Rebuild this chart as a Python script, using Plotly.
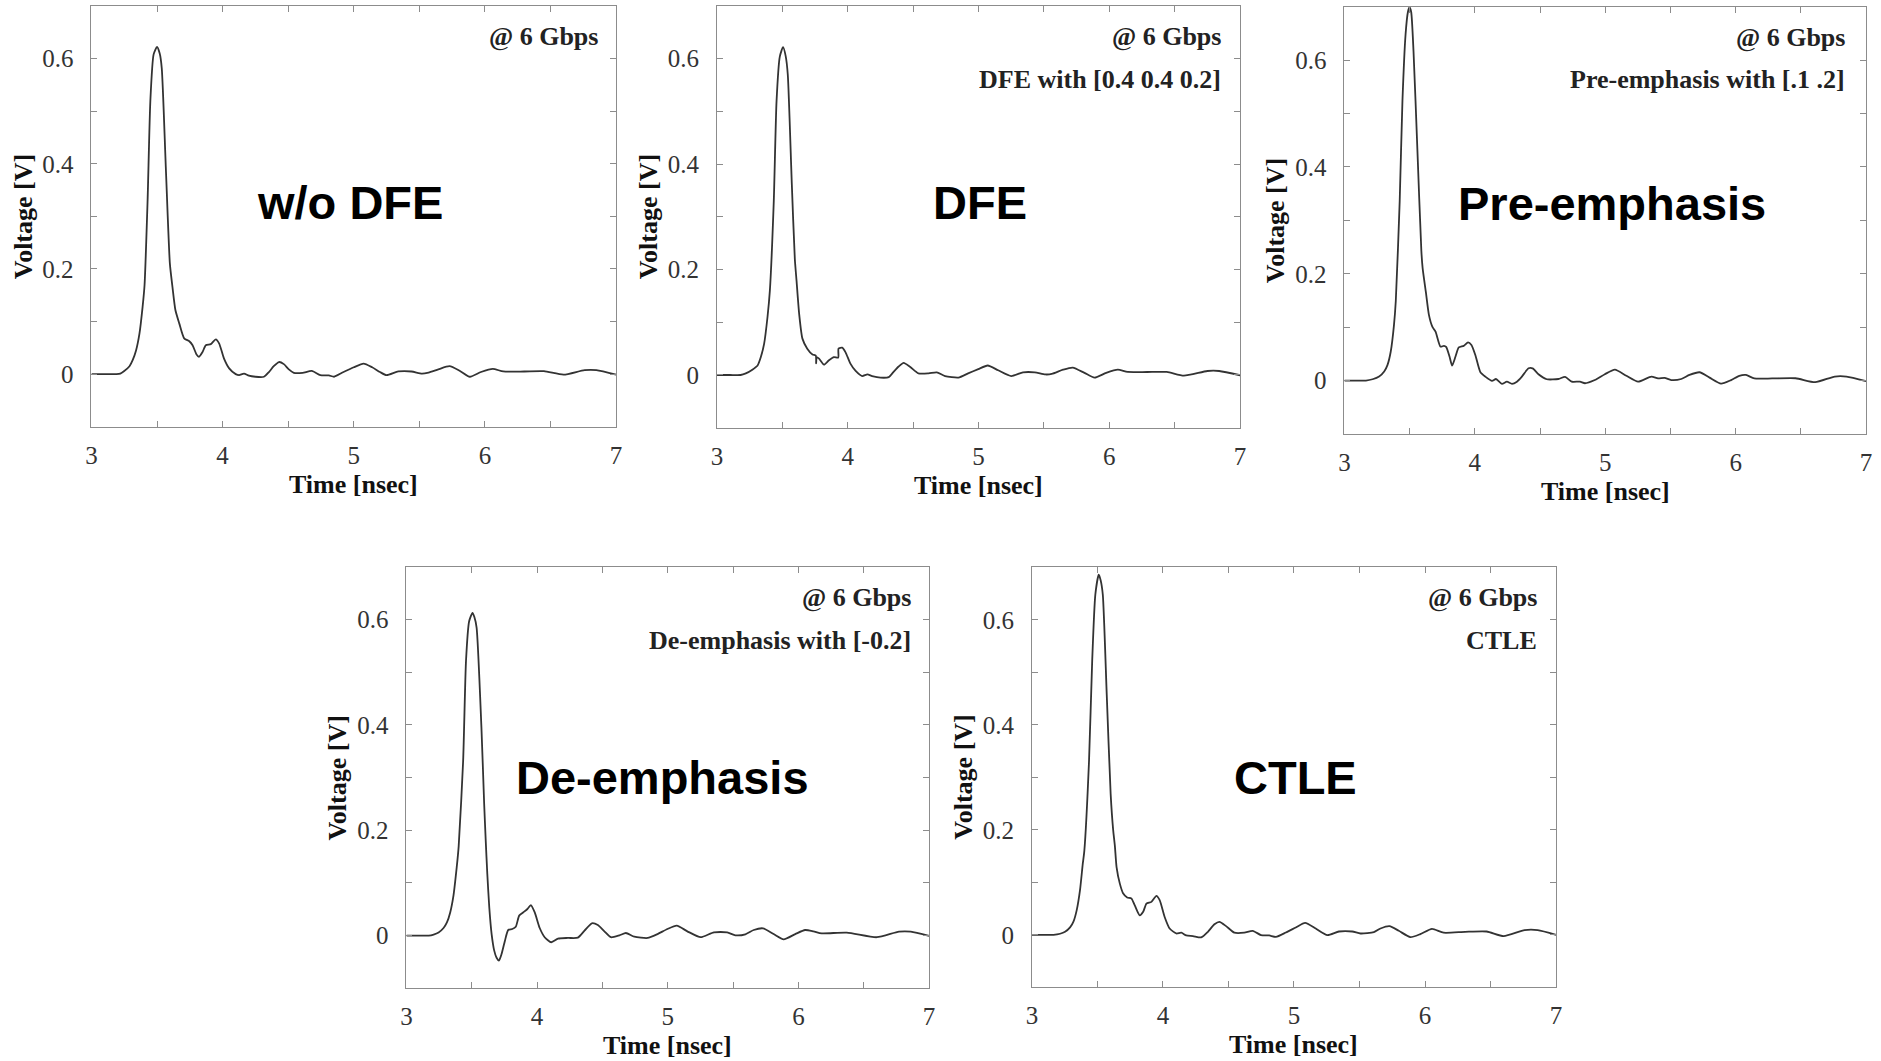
import plotly.graph_objects as go

W, H = 1881, 1061

# ---------------- data ----------------
t_wo_dfe = [3.0, 3.1, 3.19, 3.22, 3.25, 3.29, 3.315, 3.34, 3.366, 3.39, 3.405, 3.428, 3.449, 3.474, 3.5, 3.52,
            3.536, 3.567, 3.598, 3.618, 3.64, 3.67, 3.707, 3.746, 3.771, 3.80, 3.82, 3.847, 3.872, 3.91, 3.948,
            3.974, 4.01, 4.05, 4.10, 4.126, 4.163, 4.20, 4.25, 4.315, 4.353, 4.39, 4.43, 4.467, 4.505, 4.543,
            4.61, 4.68, 4.745, 4.81, 4.85, 4.91, 5.0, 5.075, 5.14, 5.2, 5.25, 5.34, 5.44, 5.52, 5.57, 5.645,
            5.73, 5.81, 5.885, 5.97, 6.06, 6.14, 6.3, 6.45, 6.6, 6.76, 6.85, 7.0]
v_wo_dfe = [0.0, 0.0, 0.0, 0.001, 0.006, 0.015, 0.027, 0.045, 0.077, 0.128, 0.17, 0.33, 0.519, 0.608, 0.622, 0.61,
            0.582, 0.393, 0.21, 0.165, 0.122, 0.096, 0.068, 0.0625, 0.055, 0.038, 0.033, 0.042, 0.055, 0.057, 0.066,
            0.058, 0.030, 0.011, 0.0, -0.002, 0.001, -0.003, -0.005, -0.005, 0.004, 0.015, 0.023, 0.019, 0.009, 0.0025,
            0.0025, 0.006, -0.002, -0.0025, -0.005, 0.0025, 0.013, 0.020, 0.013, 0.004, -0.002, 0.005, 0.005, 0.001, 0.003, 0.009,
            0.015, 0.006, -0.005, 0.004, 0.010, 0.005, 0.005, 0.0055, -0.001, 0.0075, 0.0075, -0.001]

t_dfe = [3.0, 3.1, 3.18, 3.22, 3.27, 3.31, 3.335, 3.36, 3.386, 3.404, 3.434, 3.455, 3.48, 3.505, 3.525, 3.541,
         3.572, 3.595, 3.608, 3.628, 3.653, 3.69, 3.73, 3.755, 3.758, 3.762, 3.78, 3.818, 3.856, 3.894, 3.927,
         3.929, 3.957, 3.983, 4.02, 4.06, 4.11, 4.15, 4.186, 4.25, 4.313, 4.35, 4.389, 4.427, 4.478, 4.54, 4.618,
         4.68, 4.744, 4.846, 4.92, 4.998, 5.07, 5.15, 5.25, 5.34, 5.43, 5.51, 5.56, 5.646, 5.72, 5.81, 5.887,
         5.976, 6.065, 6.14, 6.29, 6.44, 6.57, 6.75, 6.84, 7.0]
v_dfe = [0.0, 0.0, 0.0, 0.003, 0.010, 0.018, 0.034, 0.059, 0.11, 0.16, 0.33, 0.519, 0.604, 0.622, 0.605, 0.570,
         0.362, 0.22, 0.179, 0.116, 0.069, 0.05, 0.039, 0.037, 0.022, 0.034, 0.031, 0.0196, 0.028, 0.034, 0.033,
         0.05, 0.052, 0.043, 0.0215, 0.0076, -0.002, 0.001, -0.002, -0.005, -0.004, 0.006, 0.016, 0.0228, 0.015, 0.003, 0.003,
         0.005, -0.002, -0.005, 0.003, 0.011, 0.018, 0.009, -0.002, 0.005, 0.005, 0.001, 0.002, 0.010, 0.014, 0.004, -0.005,
         0.004, 0.010, 0.0057, 0.0057, 0.0057, -0.0013, 0.0076, 0.0076, -0.0005]

t_pre = [3.0, 3.1, 3.165, 3.216, 3.266, 3.305, 3.33, 3.355, 3.38, 3.394, 3.424, 3.445, 3.469, 3.487, 3.499, 3.512,
         3.53, 3.56, 3.59, 3.6, 3.625, 3.648, 3.674, 3.699, 3.737, 3.763, 3.78, 3.806, 3.826, 3.852, 3.877, 3.915,
         3.948, 3.974, 4.005, 4.043, 4.08, 4.132, 4.162, 4.208, 4.246, 4.285, 4.323, 4.361, 4.412, 4.443, 4.488,
         4.552, 4.641, 4.692, 4.743, 4.806, 4.845, 4.92, 4.997, 5.074, 5.162, 5.252, 5.354, 5.405, 5.455, 5.506,
         5.583, 5.646, 5.723, 5.8, 5.888, 5.965, 6.028, 6.079, 6.143, 6.28, 6.46, 6.61, 6.76, 6.85, 7.0]
v_pre = [0.0, 0.0, 0.0, 0.0025, 0.0075, 0.017, 0.029, 0.054, 0.104, 0.149, 0.336, 0.523, 0.648, 0.69, 0.699, 0.69,
         0.616, 0.43, 0.243, 0.21, 0.165, 0.123, 0.101, 0.0915, 0.0635, 0.065, 0.063, 0.045, 0.028, 0.045, 0.062, 0.065,
         0.0716, 0.0666, 0.047, 0.0156, 0.0075, -0.0006, 0.003, -0.006, -0.002, -0.006, -0.002, 0.0075, 0.023, 0.023, 0.012,
         0.0025, 0.003, 0.007, -0.002, -0.002, -0.005, 0.001, 0.012, 0.0205, 0.009, -0.002, 0.0075, 0.004, 0.005, 0.001,
         0.003, 0.0106, 0.0156, 0.0056, -0.0056, 0.001, 0.009, 0.0106, 0.004, 0.004, 0.0044, -0.003, 0.0075, 0.0075, -0.001]

t_de = [3.0, 3.1, 3.17, 3.208, 3.246, 3.284, 3.31, 3.335, 3.36, 3.385, 3.4, 3.434, 3.456, 3.48, 3.506, 3.52,
        3.537, 3.574, 3.595, 3.607, 3.619, 3.634, 3.652, 3.672, 3.69, 3.708, 3.728, 3.754, 3.779, 3.81, 3.837,
        3.863, 3.893, 3.926, 3.952, 3.982, 4.02, 4.058, 4.109, 4.16, 4.236, 4.312, 4.363, 4.419, 4.465, 4.515,
        4.566, 4.63, 4.68, 4.744, 4.846, 4.922, 4.998, 5.069, 5.15, 5.252, 5.353, 5.455, 5.518, 5.594, 5.658,
        5.729, 5.81, 5.887, 5.976, 6.051, 6.115, 6.178, 6.37, 6.6, 6.77, 6.86, 7.0]
v_de = [0.0, 0.0, 0.0, 0.002, 0.006, 0.0145, 0.025, 0.044, 0.076, 0.13, 0.17, 0.332, 0.522, 0.597, 0.613, 0.605,
        0.585, 0.395, 0.25, 0.18, 0.117, 0.054, 0.003, -0.0285, -0.042, -0.0474, -0.035, -0.0095, 0.0107, 0.0126, 0.017,
        0.038, 0.044, 0.0506, 0.058, 0.044, 0.0145, -0.003, -0.0126, -0.0057, -0.0044, -0.0038, 0.0095, 0.0234, 0.0202, 0.0082,
        -0.003, 0.0006, 0.005, -0.002, -0.0044, 0.003, 0.0126, 0.019, 0.0082, -0.003, 0.0063, 0.0063, 0.0006, 0.0025, 0.0107,
        0.0139, 0.003, -0.007, 0.003, 0.0107, 0.0082, 0.0044, 0.0057, -0.003, 0.0076, 0.0076, -0.0006]

t_ctle = [3.0, 3.1, 3.165, 3.215, 3.253, 3.291, 3.317, 3.342, 3.367, 3.388, 3.40, 3.436, 3.46, 3.484, 3.51, 3.525,
          3.541, 3.571, 3.601, 3.62, 3.633, 3.646, 3.671, 3.697, 3.727, 3.76, 3.785, 3.823, 3.849, 3.874, 3.912,
          3.95, 3.975, 4.013, 4.051, 4.102, 4.14, 4.178, 4.229, 4.292, 4.343, 4.393, 4.431, 4.482, 4.545, 4.621,
          4.685, 4.748, 4.811, 4.862, 4.938, 5.014, 5.085, 5.166, 5.255, 5.343, 5.445, 5.508, 5.61, 5.66, 5.729,
          5.8, 5.888, 5.964, 6.053, 6.142, 6.306, 6.47, 6.6, 6.76, 6.86, 7.0]
v_ctle = [0.0, 0.0, 0.0, 0.002, 0.0057, 0.014, 0.025, 0.047, 0.085, 0.135, 0.16, 0.332, 0.522, 0.648, 0.686, 0.675,
          0.648, 0.458, 0.268, 0.2, 0.17, 0.129, 0.0975, 0.0785, 0.071, 0.069, 0.056, 0.037, 0.0437, 0.0595, 0.0627,
          0.074, 0.066, 0.034, 0.012, 0.0025, 0.004, -0.0013, -0.0025, -0.005, 0.0057, 0.02, 0.0247, 0.0165, 0.004, 0.004,
          0.0076, -0.0006, -0.0013, -0.004, 0.0044, 0.014, 0.0228, 0.012, -0.0006, 0.0063, 0.0063, 0.0025, 0.005, 0.012, 0.0165,
          0.0076, -0.0044, 0.0013, 0.0114, 0.004, 0.0057, 0.0063, -0.0025, 0.0089, 0.0089, 0.0]

big_labels = ["w/o DFE", "DFE", "Pre-emphasis", "De-emphasis", "CTLE"]
rate_label = "@ 6 Gbps"
setting_labels = ["", "DFE with [0.4 0.4 0.2]", "Pre-emphasis with [.1 .2]", "De-emphasis with [-0.2]", "CTLE"]
x_title = "Time [nsec]"
y_title = "Voltage [V]"
x_tick_vals = [3, 4, 5, 6, 7]
x_tick_text = ["3", "4", "5", "6", "7"]
y_tick_vals = [0, 0.2, 0.4, 0.6]
y_tick_text = ["0", "0.2", "0.4", "0.6"]

series = [(t_wo_dfe, v_wo_dfe), (t_dfe, v_dfe), (t_pre, v_pre), (t_de, v_de), (t_ctle, v_ctle)]

# ---------------- layout (pixel boxes: left, right, top, bottom) ----------------
boxes = [(86, 614, 6, 426.7), (715.6, 1242, 6, 427.7), (1347, 1872, 6.7, 434),
         (403, 929, 567, 988.3), (1032.5, 1560, 567.3, 987.3)]
big_pos = [(346, 203), (980, 203), (1616, 204), (661, 777), (1298, 777)]
text_right = [598, 1225, 1853, 913, 1543]


def px(x):
    return x / W


def py(y):
    return 1 - y / H


SERIF = "Liberation Serif, Times New Roman, serif"
SANS = "Liberation Sans, Arial, sans-serif"
AX_GRAY = "#8c8c8c"

fig = go.Figure()
annotations = []
layout_axes = {}

for i, ((t, v), (l, r, tp, bt)) in enumerate(zip(series, boxes)):
    n = "" if i == 0 else str(i + 1)
    fig.add_trace(go.Scatter(x=t, y=v, mode="lines", xaxis="x" + n, yaxis="y" + n,
                             line=dict(color="#333333", width=1.8, shape="spline", smoothing=0.6),
                             showlegend=False, hoverinfo="skip"))
    common = dict(showgrid=False, zeroline=False, showline=True, linecolor=AX_GRAY, linewidth=1,
                  mirror="ticks", ticks="inside", ticklen=6, tickcolor=AX_GRAY, tickwidth=1,
                  tickfont=dict(family=SERIF, size=25, color="#333333"))
    layout_axes["xaxis" + n] = dict(common, domain=[px(l), px(r)], range=[3, 7], anchor="y" + n,
                                    tickmode="array", tickvals=x_tick_vals, ticktext=x_tick_text,
                                    ticklabelstandoff=6,
                                    minor=dict(ticks="inside", ticklen=6, tickcolor=AX_GRAY, dtick=0.5, tick0=3))
    layout_axes["yaxis" + n] = dict(common, domain=[py(bt), py(tp)], range=[-0.1, 0.7], anchor="x" + n,
                                    tickmode="array", tickvals=y_tick_vals, ticktext=y_tick_text,
                                    ticklabelstandoff=12,
                                    minor=dict(ticks="inside", ticklen=6, tickcolor=AX_GRAY, dtick=0.1, tick0=0))
    cx = (l + r) / 2
    # axis titles
    annotations.append(dict(x=px(cx), y=py(bt + 57.5), xref="paper", yref="paper", text="<b>" + x_title + "</b>",
                            showarrow=False, xanchor="center", yanchor="middle",
                            font=dict(family=SERIF, size=26, color="#111111")))
    annotations.append(dict(x=px(l - 69), y=py((tp + bt) / 2), xref="paper", yref="paper",
                            text="<b>" + y_title + "</b>", textangle=-90, showarrow=False,
                            xanchor="center", yanchor="middle",
                            font=dict(family=SERIF, size=26, color="#111111")))
    # rate & setting labels
    annotations.append(dict(x=px(text_right[i]), y=py(tp + 30.5), xref="paper", yref="paper",
                            text="<b>" + rate_label + "</b>", showarrow=False, xanchor="right", yanchor="middle",
                            font=dict(family=SERIF, size=26, color="#222222")))
    if setting_labels[i]:
        annotations.append(dict(x=px(text_right[i]), y=py(tp + 73), xref="paper", yref="paper",
                                text="<b>" + setting_labels[i] + "</b>", showarrow=False, xanchor="right",
                                yanchor="middle", font=dict(family=SERIF, size=26, color="#222222")))
    # big label
    bx, by = big_pos[i]
    annotations.append(dict(x=px(bx), y=py(by), xref="paper", yref="paper",
                            text="<b>" + big_labels[i] + "</b>", showarrow=False, xanchor="center",
                            yanchor="middle", font=dict(family=SANS, size=47, color="#000000")))

fig.update_layout(width=W, height=H, autosize=False, margin=dict(l=0, r=0, t=0, b=0),
                  paper_bgcolor="white", plot_bgcolor="white", annotations=annotations, **layout_axes)

fig.write_html("out.html")
